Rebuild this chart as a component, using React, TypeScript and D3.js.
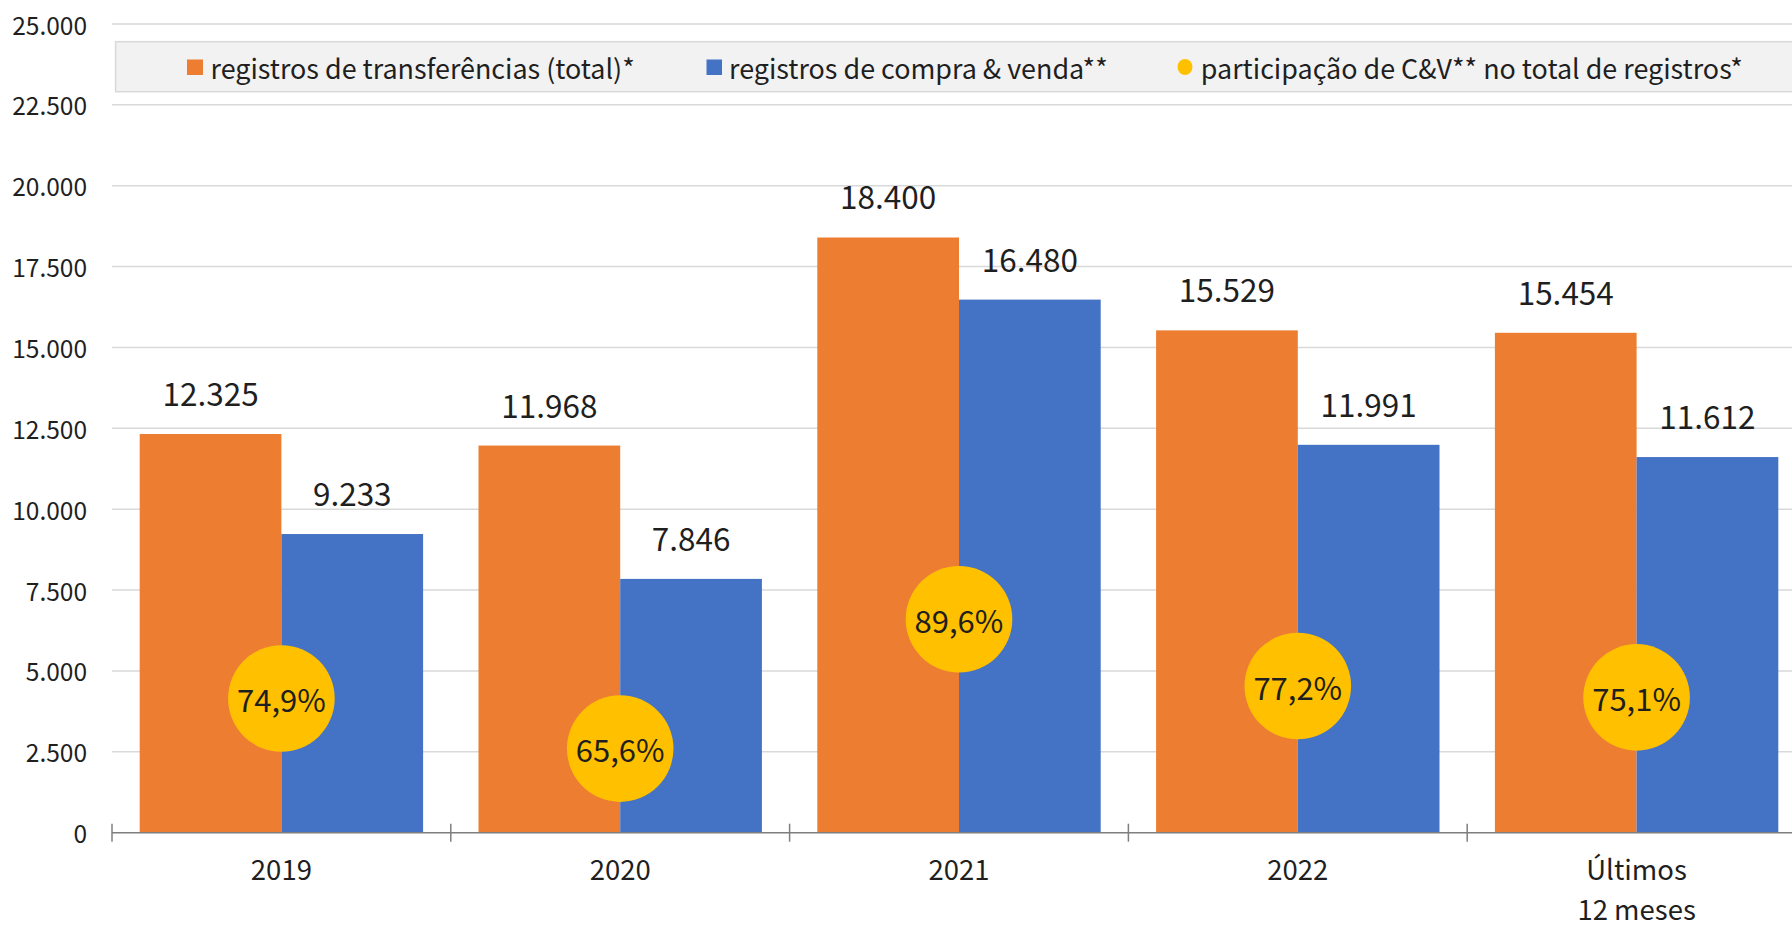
import React from "react";
import * as d3 from "d3";

const categories = ["2019", "2020", "2021", "2022", "Últimos\n12 meses"];
const transferencias = [12325, 11968, 18400, 15529, 15454];
const compraVenda = [9233, 7846, 16480, 11991, 11612];
const participacao = [0.749, 0.656, 0.896, 0.772, 0.751];
const yTicks = [0, 2500, 5000, 7500, 10000, 12500, 15000, 17500, 20000, 22500, 25000];
const seriesNames = [
  "registros de transferências (total)*",
  "registros de compra & venda**",
  "participação de C&V** no total de registros*",
];

const W = 1792;
const H = 927;
const FONT = "'Noto Sans CJK JP', 'Noto Sans', sans-serif";
const ORANGE = "#ED7D31";
const BLUE = "#4472C4";
const YELLOW = "#FFC000";
const TXT = "#1f1f1f";

const fmtNum = (v: number) => d3.format(",")(v).replace(/,/g, ".");
const fmtPct = (v: number) => d3.format(".1f")(v * 100).replace(".", ",") + "%";

export default function App() {
  const left = 112;
  const catW = 338.8;
  const top = 24;
  const bottom = 832.7;

  const x = d3.scaleBand<string>().domain(categories).range([left, left + catW * categories.length]).padding(0);
  const inner = d3.scaleBand<string>().domain(["t", "c"]).range([27.7, catW - 27.7]).padding(0);
  const y = d3.scaleLinear().domain([0, 25000]).range([bottom, top]);
  const y2 = d3.scaleLinear().domain([0.5, 2.0]).range([bottom, top]);

  const bars: { key: string; vals: number[]; color: string }[] = [
    { key: "t", vals: transferencias, color: ORANGE },
    { key: "c", vals: compraVenda, color: BLUE },
  ];

  const legFs = 26.9;

  return (
    <svg width={W} height={H} style={{ position: "absolute", left: 0, top: 0, background: "#fff" }} fontFamily={FONT}>
      {/* gridlines */}
      {yTicks.map((t) =>
        t === 0 ? null : (
          <line key={"g" + t} x1={left} x2={W} y1={y(t)} y2={y(t)} stroke="#D9D9D9" strokeWidth={1.5} />
        )
      )}
      {/* y tick labels */}
      {yTicks.map((t) => (
        <text key={"yl" + t} x={87} y={y(t)} textAnchor="end" dominantBaseline="central" fontSize={24.5} fill={TXT}>
          {fmtNum(t)}
        </text>
      ))}
      {/* legend */}
      <rect x={115.6} y={41.7} width={W} height={50} fill="#F2F2F2" stroke="#D9D9D9" strokeWidth={1.5} />
      <rect x={187} y={59.5} width={16} height={15.5} fill={ORANGE} />
      <text x={210.5} y={67} dominantBaseline="central" fontSize={legFs} fill={TXT}>{seriesNames[0]}</text>
      <rect x={706.5} y={59.5} width={15.5} height={15.5} fill={BLUE} />
      <text x={729} y={67} dominantBaseline="central" fontSize={legFs} fill={TXT}>{seriesNames[1]}</text>
      <ellipse cx={1185} cy={67} rx={7.5} ry={8} fill={YELLOW} />
      <text x={1200.8} y={67} dominantBaseline="central" fontSize={legFs} fill={TXT}>{seriesNames[2]}</text>

      {/* bars */}
      {bars.map((s) =>
        categories.map((c, i) => (
          <rect
            key={s.key + c}
            x={(x(c) as number) + (inner(s.key) as number)}
            y={y(s.vals[i])}
            width={inner.bandwidth()}
            height={bottom - y(s.vals[i])}
            fill={s.color}
          />
        ))
      )}
      {/* data labels */}
      {bars.map((s) =>
        categories.map((c, i) => (
          <text
            key={"dl" + s.key + c}
            x={(x(c) as number) + (inner(s.key) as number) + inner.bandwidth() / 2}
            y={y(s.vals[i]) - 28}
            textAnchor="middle"
            fontSize={31.5}
            fill={TXT}
          >
            {fmtNum(s.vals[i])}
          </text>
        ))
      )}
      {/* axis */}
      <line x1={left} x2={W} y1={bottom} y2={bottom} stroke="#7F7F7F" strokeWidth={1.5} />
      {categories.map((c) => (
        <line key={"tk" + c} x1={(x(c) as number)} x2={(x(c) as number)} y1={bottom - 9} y2={bottom + 9} stroke="#7F7F7F" strokeWidth={1.5} />
      ))}
      {categories.map((c) => (
        <text key={"cl" + c} x={(x(c) as number) + catW / 2} y={868} textAnchor="middle" fontSize={27.5} fill={TXT}>
          {c.split("\n").map((ln, j) => (
            <tspan key={j} x={(x(c) as number) + catW / 2} y={868 + j * 40} dominantBaseline="central">
              {ln}
            </tspan>
          ))}
        </text>
      ))}
      {/* circles */}
      {categories.map((c, i) => (
        <g key={"c" + c}>
          <circle cx={(x(c) as number) + catW / 2} cy={y2(participacao[i])} r={53.3} fill={YELLOW} />
          <text
            x={(x(c) as number) + catW / 2}
            y={y2(participacao[i])}
            textAnchor="middle"
            dominantBaseline="central"
            fontSize={31}
            fill={TXT}
          >
            {fmtPct(participacao[i])}
          </text>
        </g>
      ))}
    </svg>
  );
}
